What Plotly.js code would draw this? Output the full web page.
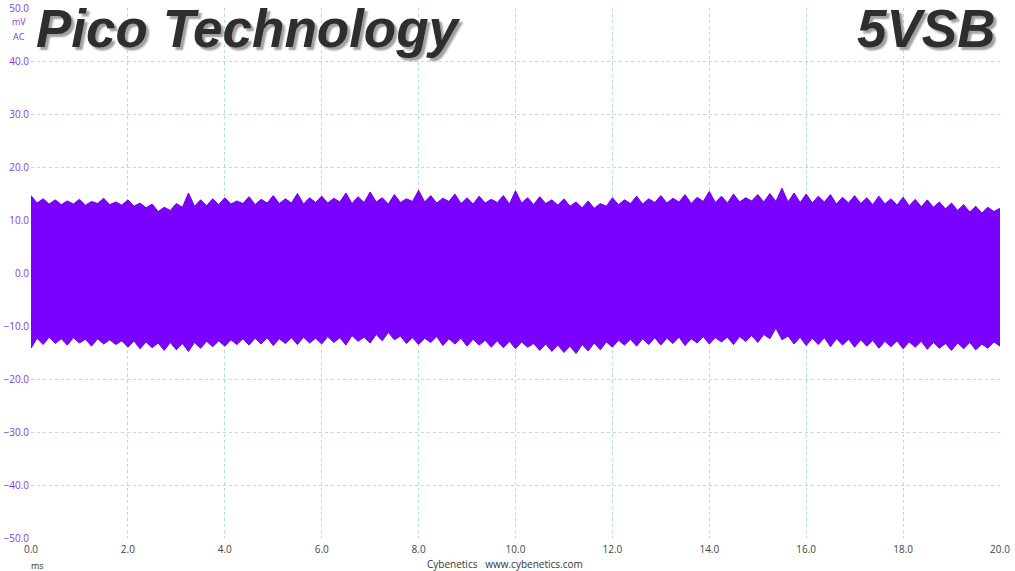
<!DOCTYPE html>
<html>
<head>
<meta charset="utf-8">
<script src="https://cdn.plot.ly/plotly-3.0.1.min.js"></script>
<style>html,body{margin:0;padding:0;background:#fff;}#chart{width:1015px;height:571px;}</style>
</head>
<body>
<div id="chart"></div>
<script>
// Time axis (ms)
const timeMs = [
  0,0.125,0.25,0.375,0.5,0.625,0.75,0.875,
  1,1.125,1.25,1.375,1.5,1.625,1.75,1.875,
  2,2.125,2.25,2.375,2.5,2.625,2.75,2.875,
  3,3.125,3.25,3.375,3.5,3.625,3.75,3.875,
  4,4.125,4.25,4.375,4.5,4.625,4.75,4.875,
  5,5.125,5.25,5.375,5.5,5.625,5.75,5.875,
  6,6.125,6.25,6.375,6.5,6.625,6.75,6.875,
  7,7.125,7.25,7.375,7.5,7.625,7.75,7.875,
  8,8.125,8.25,8.375,8.5,8.625,8.75,8.875,
  9,9.125,9.25,9.375,9.5,9.625,9.75,9.875,
  10,10.125,10.25,10.375,10.5,10.625,10.75,10.875,
  11,11.125,11.25,11.375,11.5,11.625,11.75,11.875,
  12,12.125,12.25,12.375,12.5,12.625,12.75,12.875,
  13,13.125,13.25,13.375,13.5,13.625,13.75,13.875,
  14,14.125,14.25,14.375,14.5,14.625,14.75,14.875,
  15,15.125,15.25,15.375,15.5,15.625,15.75,15.875,
  16,16.125,16.25,16.375,16.5,16.625,16.75,16.875,
  17,17.125,17.25,17.375,17.5,17.625,17.75,17.875,
  18,18.125,18.25,18.375,18.5,18.625,18.75,18.875,
  19,19.125,19.25,19.375,19.5,19.625,19.75,19.875,
  20];
// Upper envelope of the ripple trace (mV)
const upperMv = [
  14.6,13.2,14.0,13.0,13.8,12.9,13.6,13.0,
  13.9,12.8,13.5,13.1,14.1,12.9,13.4,12.8,
  13.8,12.6,13.2,12.3,13.0,11.6,12.4,11.8,
  13.1,12.4,15.1,12.6,13.8,12.7,14.0,12.9,
  14.2,13.0,13.6,13.1,14.4,12.9,13.9,13.2,
  14.6,13.1,14.0,13.2,15.0,13.0,14.2,13.3,
  14.5,13.2,14.1,13.4,15.1,13.1,14.4,13.3,
  15.3,13.4,14.2,13.0,14.8,13.3,14.0,13.5,
  15.6,13.4,14.6,13.2,14.1,13.5,14.9,13.1,
  14.2,13.0,14.5,13.2,13.9,13.3,14.6,13.0,
  15.5,13.2,14.2,12.9,14.4,13.1,13.8,12.8,
  14.0,12.6,13.4,12.3,13.6,12.2,13.1,12.6,
  14.2,12.9,13.8,13.1,14.5,13.0,14.0,13.3,
  14.6,13.2,14.1,13.4,14.8,13.1,14.3,13.5,
  15.4,13.3,14.5,13.2,14.9,13.4,14.2,13.6,
  14.8,13.4,15.0,13.5,16.0,13.4,15.1,13.3,
  14.9,13.2,14.5,13.4,14.8,13.0,14.3,13.2,
  14.6,13.1,14.2,12.9,14.5,13.0,14.0,12.8,
  14.3,12.7,13.9,12.5,13.8,12.4,13.4,12.1,
  13.2,11.8,12.9,11.5,12.6,11.3,12.4,11.6,
  12.2];
// Lower envelope of the ripple trace (mV)
const lowerMv = [
  -14.2,-12.3,-13.5,-12.1,-13.3,-12.4,-13.6,-12.2,
  -13.2,-12.5,-13.8,-12.4,-13.4,-12.6,-13.5,-12.8,
  -14.0,-12.8,-14.3,-13.0,-14.1,-13.2,-14.6,-13.1,
  -14.5,-13.3,-14.8,-13.1,-14.2,-12.9,-13.9,-12.8,
  -13.8,-12.6,-13.5,-12.4,-13.6,-12.3,-13.4,-12.2,
  -13.7,-12.4,-13.3,-12.2,-13.5,-12.1,-13.2,-12.3,
  -13.4,-12.0,-13.1,-12.2,-13.6,-11.8,-12.9,-12.1,
  -13.2,-11.6,-12.8,-11.2,-12.6,-11.9,-13.3,-12.2,
  -13.5,-12.3,-13.1,-12.0,-13.7,-12.4,-13.4,-12.3,
  -13.8,-12.5,-13.6,-12.7,-14.0,-12.8,-14.1,-12.9,
  -14.3,-13.0,-14.0,-13.3,-14.6,-13.4,-14.8,-13.6,
  -15.0,-13.8,-15.2,-13.5,-14.7,-13.2,-14.5,-13.0,
  -14.0,-12.7,-13.6,-12.5,-13.8,-12.4,-13.5,-12.2,
  -13.6,-12.3,-13.3,-12.1,-13.7,-12.4,-13.2,-12.0,
  -13.4,-12.2,-13.0,-12.1,-13.5,-12.0,-12.9,-11.8,
  -13.1,-11.6,-12.4,-10.4,-12.6,-11.9,-13.4,-12.1,
  -13.7,-12.3,-13.5,-12.2,-13.9,-12.4,-13.6,-12.5,
  -14.0,-12.6,-13.8,-12.7,-14.2,-12.9,-13.9,-12.8,
  -14.3,-13.0,-14.0,-12.9,-14.4,-13.1,-14.2,-13.3,
  -14.6,-13.2,-14.3,-13.1,-14.5,-13.4,-14.2,-13.0,
  -13.8];

const traceColor = '#7a00ff';
const purpleText = '#8a35e6';
const gridColor = '#b3dde4';

const data = [
  {x: timeMs, y: lowerMv, type: 'scatter', mode: 'lines', line: {color: '#7000ea', width: 1}, hoverinfo: 'skip', showlegend: false},
  {x: timeMs, y: upperMv, type: 'scatter', mode: 'lines', fill: 'tonexty', fillcolor: traceColor, line: {color: '#7000ea', width: 1}, hoverinfo: 'skip', showlegend: false}
];

const titleFont = {family: 'Liberation Sans, Arial, sans-serif', size: 53, color: '#2e2e2e', weight: 'bold', style: 'italic', shadow: '3px 3px 2px #a0a0a0'};

const layout = {
  width: 1015, height: 571,
  margin: {l: 31, r: 15, t: 8, b: 33},
  paper_bgcolor: '#fff', plot_bgcolor: '#fff',
  showlegend: false,
  xaxis: {
    range: [0, 20], dtick: 2, tick0: 0, tickformat: '.1f',
    showgrid: true, gridcolor: gridColor, griddash: '3px,3px', gridwidth: 1,
    zeroline: false, showline: false, ticks: '', ticklabelstandoff: 4,
    tickfont: {family: 'Open Sans, sans-serif', size: 10, color: '#444'}
  },
  yaxis: {
    range: [-50, 50], dtick: 10, tick0: 0, tickformat: '.1f',
    showgrid: true, gridcolor: gridColor, griddash: '3px,3px', gridwidth: 1,
    zeroline: false, showline: false, ticks: '', ticklabelstandoff: 1,
    tickfont: {family: 'Open Sans, sans-serif', size: 10, color: purpleText}
  },
  annotations: [
    {text: 'Pico Technology', xref: 'paper', yref: 'paper', x: 0.003, y: 1.02, xanchor: 'left', yanchor: 'top', showarrow: false, font: titleFont},
    {text: '5VSB', xref: 'paper', yref: 'paper', x: 0.997, y: 1.02, xanchor: 'right', yanchor: 'top', showarrow: false, font: titleFont},
    {text: 'mV', xref: 'paper', yref: 'paper', x: -0.0124, y: 0.975, xanchor: 'center', yanchor: 'middle', showarrow: false, font: {family: 'Open Sans, sans-serif', size: 9, color: purpleText}},
    {text: 'AC', xref: 'paper', yref: 'paper', x: -0.0124, y: 0.947, xanchor: 'center', yanchor: 'middle', showarrow: false, font: {family: 'Open Sans, sans-serif', size: 9, color: purpleText}},
    {text: 'ms', xref: 'paper', yref: 'paper', x: 0.0062, y: -0.051, xanchor: 'center', yanchor: 'middle', showarrow: false, font: {family: 'Open Sans, sans-serif', size: 9, color: '#333'}},
    {text: 'Cybenetics   www.cybenetics.com', xref: 'paper', yref: 'paper', x: 0.489, y: -0.049, xanchor: 'center', yanchor: 'middle', showarrow: false, font: {family: 'Open Sans, sans-serif', size: 10, color: '#333'}}
  ]
};

Plotly.newPlot('chart', data, layout, {staticPlot: true, displayModeBar: false});
</script>
</body>
</html>
